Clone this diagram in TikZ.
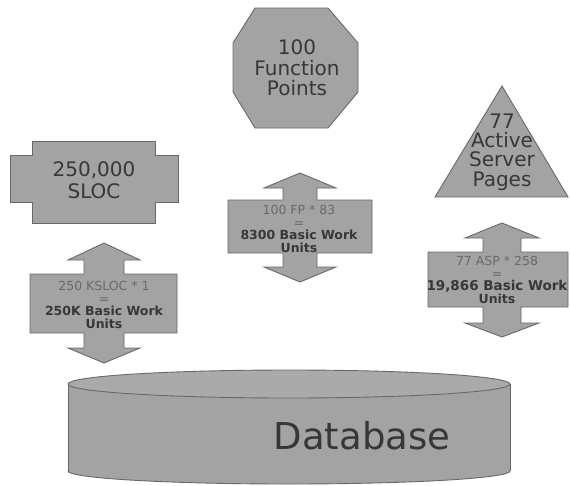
\documentclass[tikz,border=0pt]{standalone}
\usepackage{fontspec}
\setmainfont{DejaVu Sans}
\definecolor{boxgray}{RGB}{163,163,163}
\definecolor{topgray}{RGB}{170,170,170}
\definecolor{edgegray}{RGB}{105,105,105}
\definecolor{txtdark}{RGB}{55,55,55}
\definecolor{txtmid}{RGB}{105,105,105}
\begin{document}
\begin{tikzpicture}[x=1pt,y=-1pt,
  solid shape/.style={fill=boxgray,draw=edgegray,line width=0.9pt,line join=miter},
  bigtext/.style={text=txtdark,align=center,inner sep=0pt},
  worktext/.style={align=center,inner sep=0pt,font=\fontsize{12.5}{12.4}\selectfont}]
\useasboundingbox (0,0) rectangle (570,485);

% ---- source: lines of code (flat cross) ----
\path[solid shape] (32,141) -- (155,141) -- (155,155) -- (178,155) -- (178,202)
  -- (155,202) -- (155,223) -- (32,223) -- (32,202) -- (10,202) -- (10,155)
  -- (32,155) -- cycle;
\node[bigtext,font=\fontsize{20}{21.5}\selectfont] (sloc) at (94,180) {250,000\\SLOC};

% ---- source: function points (octagon) ----
\path[solid shape] (255,8) -- (328,8) -- (358,43) -- (358,92) -- (328,128)
  -- (255,128) -- (233,92) -- (233,43) -- cycle;
\node[bigtext,font=\fontsize{20}{20.5}\selectfont] (fp) at (297,68) {100\\Function\\Points};

% ---- source: active server pages (triangle) ----
\path[solid shape] (502,86) -- (568,197) -- (435,197) -- cycle;
\node[bigtext,font=\fontsize{20}{19.4}\selectfont] (asp) at (502,152) {77\\Active\\Server\\Pages};

% ---- conversion 1: up/down arrow box ----
\path[solid shape] (104,243) -- (140,260) -- (124,260) -- (124,274) -- (177,274)
  -- (177,333) -- (124,333) -- (124,348) -- (140,348) -- (104,363) -- (68,348)
  -- (84,348) -- (84,333) -- (30,333) -- (30,274) -- (84,274) -- (84,260)
  -- (68,260) -- cycle;
\node[worktext] (conv1) at (104,305)
  {\textcolor{txtmid}{250 KSLOC * 1}\\\textcolor{txtmid}{=}\\
   \textcolor{txtdark}{\bfseries 250K Basic Work}\\\textcolor{txtdark}{\bfseries Units}};

% ---- conversion 2 ----
\path[solid shape] (300,173) -- (336,188) -- (317,188) -- (317,200) -- (372,200)
  -- (372,253) -- (317,253) -- (317,267) -- (336,267) -- (300,282) -- (264,267)
  -- (283,267) -- (283,253) -- (228,253) -- (228,200) -- (283,200) -- (283,188)
  -- (264,188) -- cycle;
\node[worktext] (conv2) at (299,229)
  {\textcolor{txtmid}{100 FP * 83}\\\textcolor{txtmid}{=}\\
   \textcolor{txtdark}{\bfseries 8300 Basic Work}\\\textcolor{txtdark}{\bfseries Units}};

% ---- conversion 3 ----
\path[solid shape] (502,223) -- (539,238) -- (521,238) -- (521,252) -- (568,252)
  -- (568,307) -- (521,307) -- (521,323) -- (539,323) -- (502,337) -- (465,323)
  -- (483,323) -- (483,307) -- (428,307) -- (428,252) -- (483,252) -- (483,238)
  -- (465,238) -- cycle;
\node[worktext] (conv3) at (497,280)
  {\textcolor{txtmid}{77 ASP * 258}\\\textcolor{txtmid}{=}\\
   \textcolor{txtdark}{\fontsize{13.5}{12.4}\selectfont\bfseries 19,866 Basic Work}\\\textcolor{txtdark}{\bfseries Units}};

% ---- database cylinder ----
\path[solid shape] (289,471) ellipse [x radius=221, y radius=13];
\fill[boxgray] (68.5,384) rectangle (509.5,471);
\draw[edgegray,line width=0.9pt] (68,384) -- (68,471) (510,384) -- (510,471);
\path[solid shape,fill=topgray] (289,384) ellipse [x radius=221, y radius=14];
\node[text=txtdark,inner sep=0pt,font=\fontsize{37}{40}\selectfont] (db) at (362,436) {Database};
\end{tikzpicture}
\end{document}
